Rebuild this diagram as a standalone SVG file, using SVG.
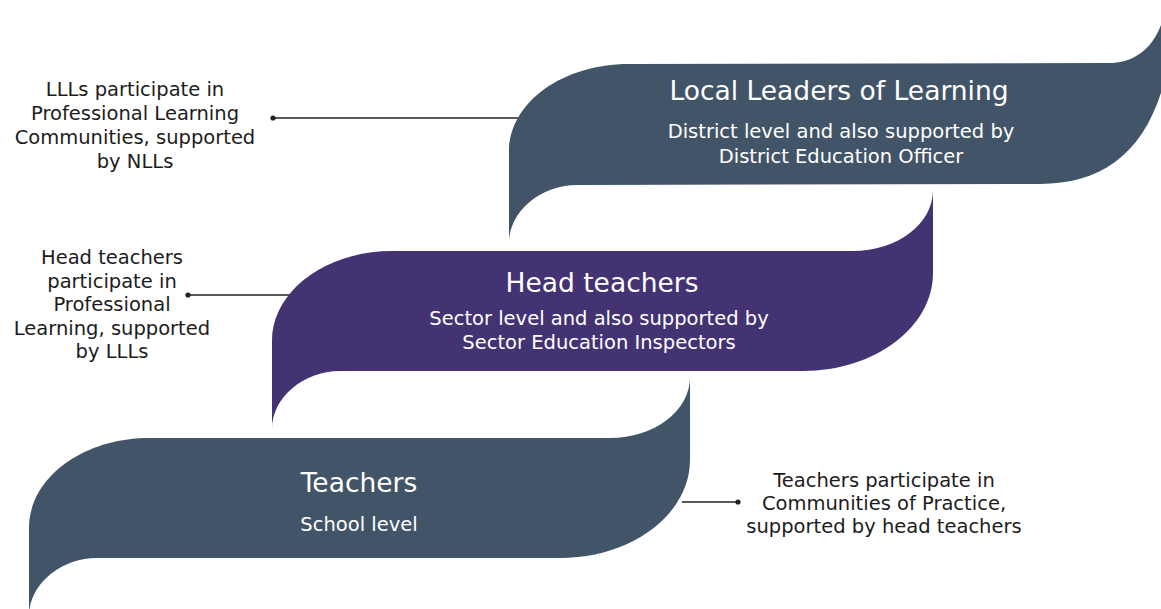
<svg xmlns="http://www.w3.org/2000/svg" width="1161" height="609" viewBox="0 0 1161 609">
  <defs>
    <style>
      .slate { fill: #425568; }
      .violet { fill: #433373; }
      .title { font-family: "DejaVu Sans", "Liberation Sans", sans-serif; font-size: 26.5px; fill: #ffffff; text-anchor: middle; }
      .sub { font-family: "DejaVu Sans", "Liberation Sans", sans-serif; font-size: 19.5px; fill: #ffffff; text-anchor: middle; }
      .note { font-family: "DejaVu Sans", "Liberation Sans", sans-serif; font-size: 19.5px; fill: #1c1c1c; text-anchor: middle; }
      .link { stroke: #222222; stroke-width: 1.3; fill: none; }
      .dot { fill: #222222; }
    </style>
    <!-- folded ribbon band: left end curls down, right end curls up -->
    <path id="band" d="M 0,178 L 0,90 C 0,40 54,0 120,0 L 581,0 C 625,0 661,-27 661,-61 L 661,22 C 661,76 603,120 531,120 L 68,120 C 31,120 0,147 0,178 Z"/>
  </defs>

  <rect width="1161" height="609" fill="#ffffff"/>

  <g id="connectors">
    <line class="link" x1="273" y1="118" x2="528" y2="118"/>
    <circle class="dot" cx="273" cy="118" r="2.6"/>
    <line class="link" x1="188" y1="295" x2="300" y2="295"/>
    <circle class="dot" cx="188" cy="295" r="2.6"/>
    <line class="link" x1="682" y1="502" x2="738" y2="502"/>
    <circle class="dot" cx="738" cy="502" r="2.6"/>
  </g>

  <g id="teachers">
    <use href="#band" class="slate" transform="translate(29,438)"/>
    <text class="title" x="359" y="492">Teachers</text>
    <text class="sub" x="359" y="531">School level</text>
  </g>

  <g id="head-teachers">
    <use href="#band" class="violet" transform="translate(272,251)"/>
    <text class="title" x="602" y="292">Head teachers</text>
    <text class="sub" x="599" y="325">Sector level and also supported by</text>
    <text class="sub" x="599" y="349">Sector Education Inspectors</text>
  </g>

  <g id="local-leaders">
    <path class="slate" d="M 509,243 L 509,152 C 509,102 563,64 629,64 L 1108,63 C 1138,63 1158,45 1166,8 L 1180,0 L 1180,55 L 1170,55 C 1155,145 1110,184 1040,184 L 577,185 C 540,185 509,212 509,243 Z"/>
    <text class="title" x="839" y="100">Local Leaders of Learning</text>
    <text class="sub" x="841" y="138">District level and also supported by</text>
    <text class="sub" x="841" y="163">District Education Officer</text>
  </g>

  <g id="note-lll">
    <text class="note" x="135" y="96">LLLs participate in</text>
    <text class="note" x="135" y="120">Professional Learning</text>
    <text class="note" x="135" y="144">Communities, supported</text>
    <text class="note" x="135" y="168">by NLLs</text>
  </g>

  <g id="note-head">
    <text class="note" x="112" y="264">Head teachers</text>
    <text class="note" x="112" y="288">participate in</text>
    <text class="note" x="112" y="311">Professional</text>
    <text class="note" x="112" y="335">Learning, supported</text>
    <text class="note" x="112" y="358">by LLLs</text>
  </g>

  <g id="note-teachers">
    <text class="note" x="884" y="487">Teachers participate in</text>
    <text class="note" x="884" y="510">Communities of Practice,</text>
    <text class="note" x="884" y="533">supported by head teachers</text>
  </g>
</svg>
